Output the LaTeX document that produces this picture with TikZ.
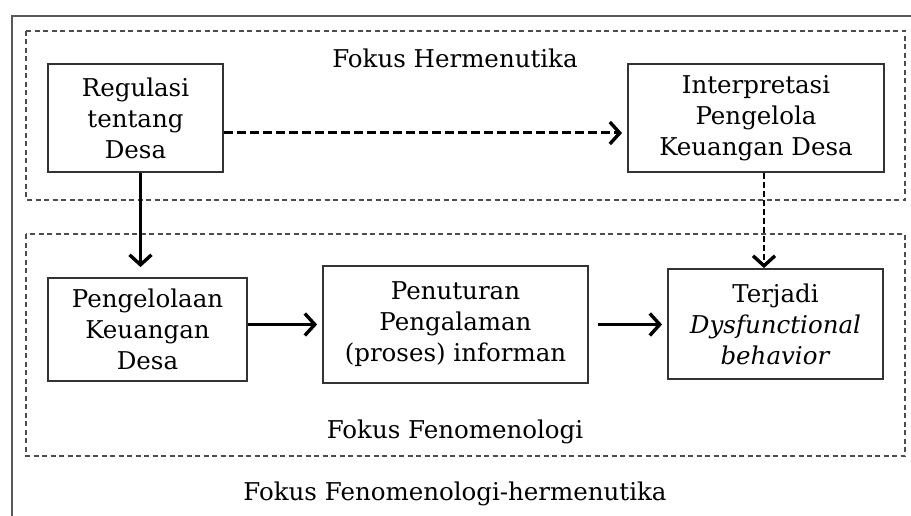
\documentclass[tikz,border=0pt]{standalone}
\usepackage{fontspec}
\setmainfont{DejaVu Serif}
\usetikzlibrary{arrows.meta}
\tikzset{
    kotak/.style={draw=black!80, line width=1.8pt, align=center, inner sep=0pt,
        font=\fontsize{24.5}{31}\selectfont},
    fokus/.style={dash pattern=on 5pt off 3.5pt, line width=1.6pt, draw=black!70},
    panah/.style={line width=3.4pt, -{Straight Barb[length=10pt, width=22pt, line width=3.4pt]}},
    label/.style={font=\fontsize{24.5}{28}\selectfont}
}
\begin{document}
\begin{tikzpicture}[x=1pt, y=-1pt]
    \useasboundingbox (0,0) rectangle (911,516);
    % outer frame, cut by the page on the right and below
    \draw[line width=2.2pt, draw=black!65] (12,516)--(12,16)--(911,16);
    % two focus areas
    \draw[fokus] (26,31) rectangle (905,200);
    \draw[fokus] (26,234) rectangle (905,456);
    \node[label] (hermen) at (455,58) {Fokus Hermenutika};
    \node[label] (fenom) at (455,432) {Fokus Fenomenologi};
    \node[label] (fenher) at (455,494) {Fokus Fenomenologi-hermenutika};
    % boxes
    \node[kotak, minimum width=175pt, minimum height=108pt] (reg) at (135.5,118)
        {Regulasi\\tentang\\Desa};
    \node[kotak, minimum width=256pt, minimum height=108pt] (interp) at (756,118)
        {Interpretasi\\Pengelola\\Keuangan Desa};
    \node[kotak, minimum width=199pt, minimum height=103pt] (peng) at (147.5,329.5)
        {Pengelolaan\\Keuangan\\Desa};
    \node[kotak, minimum width=265pt, minimum height=117pt] (penut) at (455.5,324.5)
        {Penuturan\\Pengalaman\\(proses) informan};
    \node[kotak, minimum width=215pt, minimum height=110pt] (terj) at (775.5,324)
        {Terjadi\\\textit{Dysfunctional}\\\textit{behavior}};
    % connectors
    \draw[panah, line width=3pt, dash pattern=on 9pt off 4pt, shorten >=5pt]
        ([yshift=-15pt]reg.east) -- ([yshift=-15pt]interp.west);
    \draw[panah, shorten >=10pt] ([xshift=5pt]reg.south) -- ([xshift=5pt]reg.south |- peng.north);
    \draw[panah, line width=2.6pt, dash pattern=on 6pt off 3pt]
        ([xshift=8pt]interp.south) -- ([xshift=8pt]interp.south |- terj.north);
    \draw[panah, shorten >=5pt] (peng.east |- penut.west) -- (penut.west);
    \draw[panah, shorten <=9pt, shorten >=5pt] (penut.east) -- (penut.east -| terj.west);
\end{tikzpicture}
\end{document}
